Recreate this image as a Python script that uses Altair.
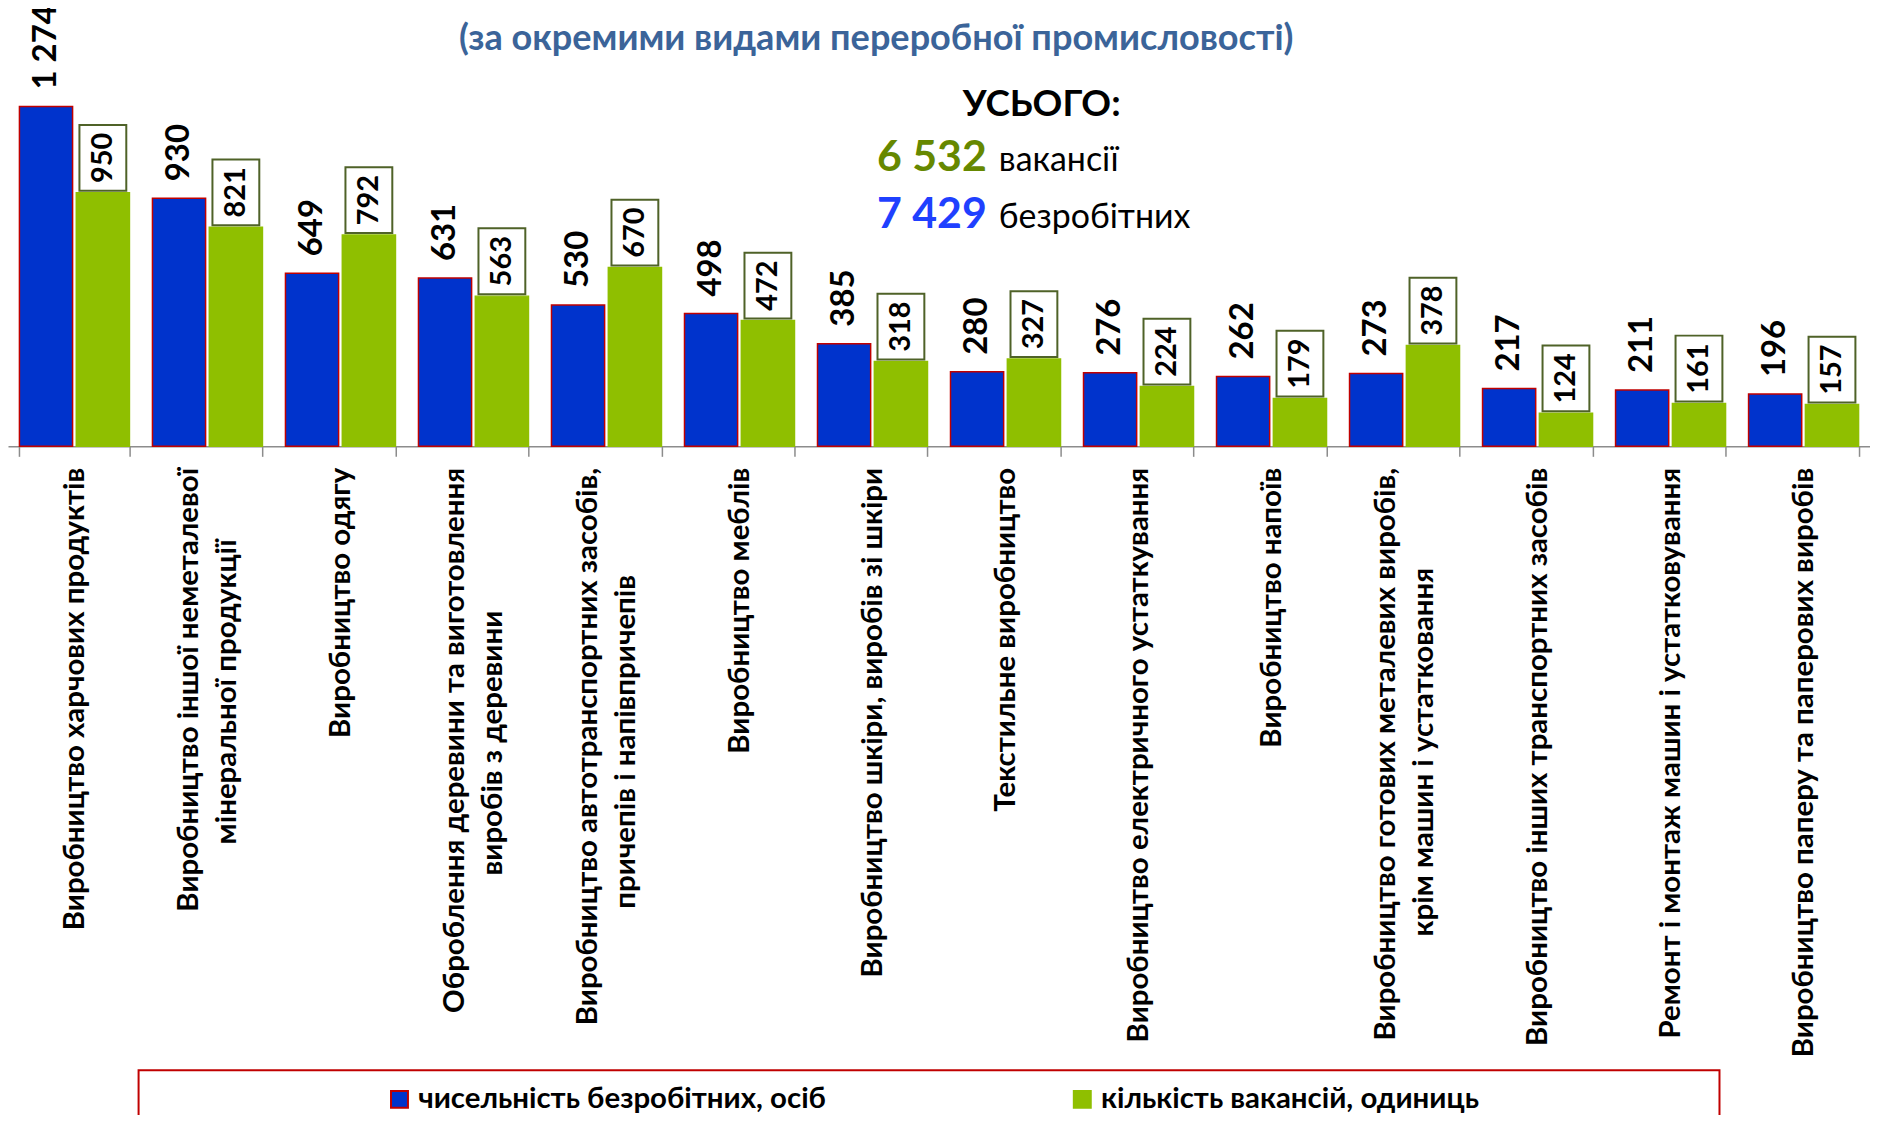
import altair as alt
import pandas as pd

# ---------------- data ----------------
categories = [
    "Виробництво харчових продуктів",
    "Виробництво іншої неметалевої|мінеральної продукції",
    "Виробництво одягу",
    "Оброблення деревини та виготовлення|виробів з деревини",
    "Виробництво автотранспортних засобів,|причепів і напівпричепів",
    "Виробництво меблів",
    "Виробництво шкіри, виробів зі шкіри",
    "Текстильне виробництво",
    "Виробництво електричного устаткування",
    "Виробництво напоїв",
    "Виробництво готових металевих виробів,|крім машин і устатковання",
    "Виробництво інших транспортних засобів",
    "Ремонт і монтаж машин і устатковування",
    "Виробництво паперу та паперових виробів",
]
unemployed = [1274, 930, 649, 631, 530, 498, 385, 280, 276, 262, 273, 217, 211, 196]
vacancies = [950, 821, 792, 563, 670, 472, 318, 327, 224, 179, 378, 124, 161, 157]
series = ["чисельність безробітних, осіб", "кількість вакансій, одиниць"]

title_text = "(за окремими видами переробної промисловості)"
total_head = "УСЬОГО:"
total_vac_num = "6 532"
total_vac_word = "вакансії"
total_unemp_num = "7 429"
total_unemp_word = "безробітних"

# ---------------- styling ----------------
FONT = "Lato, 'Open Sans', sans-serif"
BLUE = "#0033CC"
GREEN = "#8FBF00"
RED = "#C00000"
BOX = "#4F6228"
GREY = "#8C8C8C"

# non-breaking-space padding that centres the 2nd line of a two-line label;
# the '^' marker becomes a zero-width space in labelExpr so it is not trimmed
second_line_pad = [0, 10, 0, 20, 15, 0, 0, 0, 0, 0, 14, 0, 0, 0]


def padded(label, n):
    if "|" not in label or n == 0:
        return label
    a, b = label.split("|")
    return a + "|" + b + "\u00a0" * n + "^"


cat_labels = [padded(c, n) for c, n in zip(categories, second_line_pad)]

rows = []
for c, u, v in zip(cat_labels, unemployed, vacancies):
    rows.append({"cat": c, "series": series[0], "value": u})
    rows.append({"cat": c, "series": series[1], "value": v})
df = pd.DataFrame(rows)
df["label"] = df["value"].map(lambda n: f"{n:,}".replace(",", " "))

W, H = 1868, 438
YMAX = 1636
PAD_INNER, PAD_OUTER = 0.173, 0.086
STEP = W / (len(categories) - PAD_INNER + 2 * PAD_OUTER)
TICK_SHIFT = -PAD_INNER * STEP / 2

legend = alt.Legend(
    orient="none", legendX=378, legendY=1078, direction="horizontal", columns=2,
    title=None, symbolType="square", symbolSize=289, symbolStrokeWidth=2,
    labelFont=FONT, labelFontSize=29.5, labelFontWeight="bold", labelColor="black",
    labelOffset=4, columnPadding=242, labelLimit=0, padding=0,
)

# every label is laid out on a half-height line grid so that one- and
# two-line labels are both centred on their category
label_expr = (
    "indexof(datum.label, '|') >= 0 ? "
    "[split(datum.label, '|')[0], '\\u200b', replace(split(datum.label, '|')[1], '^', '\\u200b')] "
    ": ['\\u200b', datum.label]"
)

x_enc = alt.X(
    "cat:N", sort=cat_labels,
    scale=alt.Scale(paddingInner=PAD_INNER, paddingOuter=PAD_OUTER),
    axis=alt.Axis(
        title=None, labelAngle=270, labelAlign="right", labelBaseline="middle",
        labelFont=FONT, labelFontSize=29.5, labelFontWeight="bold", labelColor="black",
        labelLimit=0, labelPadding=11, labelLineHeight=19,
        tickOffset=TICK_SHIFT, labelOffset=-19,
        labelExpr=label_expr,
        tickBand="extent", tickSize=10, tickColor=GREY, tickWidth=1.5,
        domainColor=GREY, domainWidth=1.5, grid=False,
    ),
)
xo_enc = alt.XOffset("series:N", sort=series, scale=alt.Scale(paddingInner=0.065, paddingOuter=0))
y_enc = alt.Y("value:Q", scale=alt.Scale(domain=[0, YMAX], nice=False), axis=None)

base = alt.Chart(df).encode(x=x_enc, xOffset=xo_enc, y=y_enc)

bars = base.mark_bar(strokeWidth=1.5).encode(
    fill=alt.Fill("series:N", sort=series, scale=alt.Scale(domain=series, range=[BLUE, GREEN]), legend=legend),
    stroke=alt.Stroke("series:N", sort=series, scale=alt.Scale(domain=series, range=[RED, GREEN]), legend=legend),
)

blue_labels = base.transform_filter(alt.datum.series == series[0]).mark_text(
    angle=270, align="left", baseline="middle", dx=17,
    font=FONT, fontSize=33, fontWeight="bold", color="black",
).encode(text="label:N")

boxes = base.transform_filter(alt.datum.series == series[1]).mark_bar(
    fill="white", stroke=BOX, strokeWidth=2, width=47, yOffset=-2, y2Offset=-68,
).encode(y2=alt.Y2("value:Q"))

green_labels = base.transform_filter(alt.datum.series == series[1]).mark_text(
    angle=270, align="center", baseline="middle", dx=35,
    font=FONT, fontSize=29, fontWeight="bold", color="black",
).encode(text="label:N")


def note(text, x, y, size, color="black", weight="bold", align="left"):
    return alt.Chart(pd.DataFrame({"t": [text]})).mark_text(
        align=align, baseline="alphabetic", font=FONT, fontSize=size,
        fontWeight=weight, color=color,
    ).encode(x=alt.value(x), y=alt.value(y), text="t:N")


title = note(title_text, 871, 40, 36.2, color="#3B6499", align="center")
head = note(total_head, 1037, 107, 37, align="center")
vac_num = note(total_vac_num, 982, 162, 43, color="#668800", align="right")
vac_word = note(total_vac_word, 994, 162, 34, weight="normal")
un_num = note(total_unemp_num, 982, 219, 43, color="#1F40FF", align="right")
un_word = note(total_unemp_word, 994, 219, 34, weight="normal")

legend_box = alt.Chart(pd.DataFrame({"t": [0]})).mark_rect(
    fillOpacity=0, stroke=RED, strokeWidth=2,
).encode(x=alt.value(131), x2=alt.value(1717), y=alt.value(1064), y2=alt.value(1150))

chart = alt.layer(
    bars, boxes, blue_labels, green_labels,
    title, head, vac_num, vac_word, un_num, un_word, legend_box,
).properties(
    width=W, height=H,
    autosize=alt.AutoSizeParams(type="none"),
    padding={"left": 0, "top": 0, "right": 0, "bottom": 669},
    background="white",
).configure_view(stroke=None)

chart.save("out.html", embed_options={"renderer": "svg", "actions": False})
